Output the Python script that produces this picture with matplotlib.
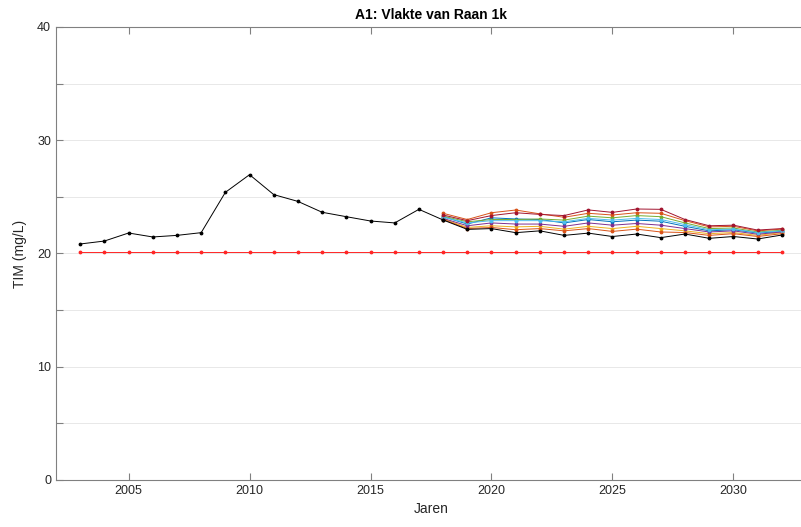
"""TIM concentration at Vlakte van Raan: measurements, target line and projections."""

import matplotlib
matplotlib.use("Agg")
import matplotlib.pyplot as plt

# measured series
hist_years = list(range(2003, 2019))
hist_tim = [20.84, 21.1, 21.81, 21.46, 21.6, 21.84, 25.4, 26.96, 25.2, 24.6,
            23.64, 23.25, 22.87, 22.7, 23.9, 22.96]

# reference level (constant)
ref_years = list(range(2003, 2033))
ref_tim = [20.1] * len(ref_years)

# projection scenarios 2018-2032
proj_years = list(range(2018, 2033))
proj_darkred = [23.4, 22.9, 23.35, 23.6, 23.45, 23.35, 23.85, 23.63, 23.93, 23.9, 23.0, 22.45, 22.5, 22.07, 22.2]
proj_orange = [23.55, 23.0, 23.6, 23.84, 23.5, 23.2, 23.55, 23.4, 23.6, 23.55, 22.9, 22.35, 22.4, 22.0, 22.15]
proj_green = [23.3, 22.8, 23.0, 23.0, 23.05, 22.95, 23.3, 23.15, 23.35, 23.25, 22.7, 22.2, 22.25, 21.9, 22.05]
proj_cyan = [23.2, 22.7, 22.9, 22.9, 22.9, 22.8, 23.1, 22.95, 23.1, 23.0, 22.55, 22.1, 22.15, 21.85, 22.0]
proj_blue = [23.25, 22.6, 23.15, 23.05, 23.0, 22.7, 23.0, 22.8, 22.95, 22.85, 22.4, 22.0, 22.1, 21.8, 21.95]
proj_purple = [23.1, 22.45, 22.7, 22.6, 22.6, 22.4, 22.7, 22.5, 22.65, 22.5, 22.2, 21.9, 22.0, 21.7, 21.9]
proj_yellow = [23.05, 22.3, 22.45, 22.35, 22.4, 22.15, 22.4, 22.2, 22.4, 22.2, 22.0, 21.75, 21.85, 21.6, 21.85]
proj_orange2 = [23.0, 22.2, 22.3, 22.1, 22.2, 22.0, 22.2, 21.95, 22.15, 21.9, 21.85, 21.6, 21.75, 21.5, 21.75]
proj_black = [22.96, 22.13, 22.2, 21.84, 22.0, 21.6, 21.8, 21.5, 21.72, 21.4, 21.72, 21.34, 21.5, 21.28, 21.63]

plt.rcParams["font.family"] = ["Liberation Sans", "DejaVu Sans"]

fig = plt.figure(figsize=(8.01, 5.27), dpi=100)
ax = fig.add_axes([56 / 801, 47 / 527, 750 / 801, 453 / 527])

mk = dict(marker=".", markersize=3.5, linewidth=0.7)
ax.plot(ref_years, ref_tim, color=(1.0, 0.15, 0.15), **mk)

scenarios = [
    (proj_blue, (0.0, 0.447, 0.741)),
    (proj_orange, (0.85, 0.325, 0.098)),
    (proj_yellow, (0.929, 0.694, 0.125)),
    (proj_purple, (0.494, 0.184, 0.556)),
    (proj_green, (0.466, 0.674, 0.188)),
    (proj_cyan, (0.301, 0.745, 0.933)),
    (proj_darkred, (0.635, 0.078, 0.184)),
    (proj_orange2, (0.85, 0.325, 0.098)),
]
for vals, col in scenarios:
    ax.plot(proj_years, vals, color=col, **mk)
ax.plot(proj_years, proj_black, color="black", **mk)
ax.plot(hist_years, hist_tim, color="black", **mk)

ax.set_xlim(2002, 2033)
ax.set_ylim(0, 40)
ax.set_xticks(range(2005, 2031, 5))
ax.set_yticks(range(0, 41, 5))
ax.set_yticklabels([str(v) if v % 10 == 0 else "" for v in range(0, 41, 5)])
ax.grid(axis="y", color=(0.15, 0.15, 0.15), alpha=0.12, linewidth=0.6)
ax.set_axisbelow(True)

axcol = (0.5, 0.5, 0.5)
for s in ax.spines.values():
    s.set_color(axcol)
    s.set_linewidth(0.8)
# right edge of the box falls outside the picture
ax.spines["right"].set_visible(False)
ax.tick_params(direction="in", length=5, width=0.8, color=axcol,
               labelcolor=(0.15, 0.15, 0.15), labelsize=9, top=True, right=False)

ax.set_xlabel("Jaren", fontsize=10, color=(0.15, 0.15, 0.15), labelpad=4)
ax.set_ylabel("TIM (mg/L)", fontsize=10, color=(0.15, 0.15, 0.15), labelpad=7)
ax.set_title("A1: Vlakte van Raan 1k", fontsize=10, fontweight="bold", pad=6)

fig.savefig("out.png", dpi=100)
